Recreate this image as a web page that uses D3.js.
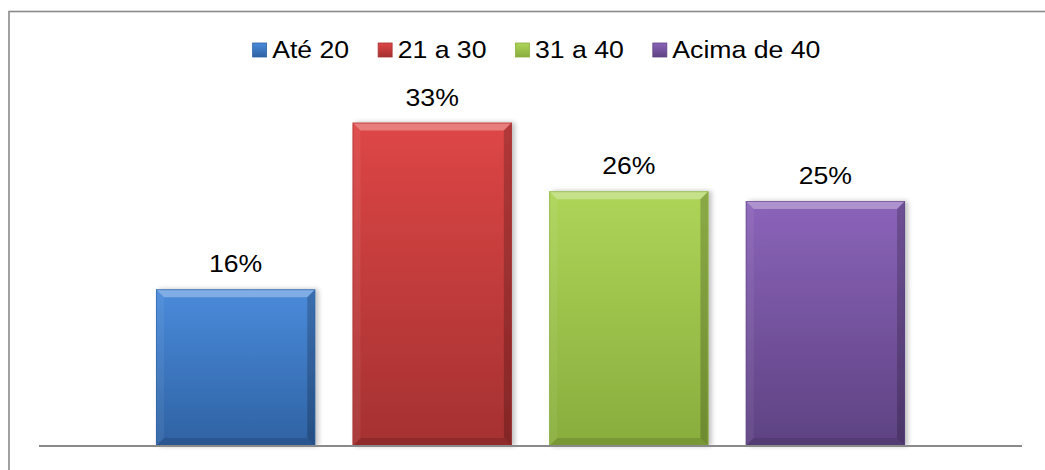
<!DOCTYPE html>
<html><head><meta charset="utf-8">
<script src="https://cdn.jsdelivr.net/npm/d3@7"></script>
<style>body{margin:0;background:#fff}svg{display:block}text{font-family:"Liberation Sans",Arial,sans-serif;fill:#000}</style>
</head><body><svg id="c" width="1045" height="470"></svg>
<script>
const categories = ["Até 20", "21 a 30", "31 a 40", "Acima de 40"];
const values = [16, 33, 26, 25];
const labels = ["16%", "33%", "26%", "25%"];
const colorsTop = ["#4a8bdb", "#de4646", "#aed558", "#8b64ba"];
const colorsBottom = ["#2f62a3", "#a53131", "#89ad3d", "#5e4282"];

const svg = d3.select("#c");
const W = 1045, H = 470;
const x0 = 39, x1 = 1022, yBase = 446;
const SX = 1.11; // horizontal text stretch seen in the reference
const x = d3.scaleBand().domain(categories).range([x0, x1]).paddingInner(0.19).paddingOuter(0.595);
const y = d3.scaleLinear().domain([0, 35]).range([yBase, yBase - 343]);

const defs = svg.append("defs");
const sh = defs.append("filter").attr("id","sh").attr("x","-10%").attr("y","-10%").attr("width","130%").attr("height","130%");
sh.append("feGaussianBlur").attr("in","SourceAlpha").attr("stdDeviation",2.5).attr("result","b");
sh.append("feOffset").attr("dx",3).attr("dy",0).attr("result","o");
sh.append("feComponentTransfer").append("feFuncA").attr("type","linear").attr("slope",0.25);
const m = sh.append("feMerge"); m.append("feMergeNode"); m.append("feMergeNode").attr("in","SourceGraphic");

categories.forEach((c,i)=>{
  const g = defs.append("linearGradient").attr("id","g"+i).attr("x1",0).attr("y1",0).attr("x2",0).attr("y2",1);
  g.append("stop").attr("offset","0%").attr("stop-color",colorsTop[i]);
  g.append("stop").attr("offset","100%").attr("stop-color",colorsBottom[i]);
});

// outer border
svg.append("rect").attr("x",9).attr("y",11.5).attr("width",W+20).attr("height",H+20)
  .attr("fill","none").attr("stroke","#8a8a8a").attr("stroke-width",1.6);

// bars
const bw = x.bandwidth(), bv = 8;
const bars = svg.append("g").selectAll("g").data(values).join("g").attr("filter","url(#sh)");
bars.append("rect").attr("x",(d,i)=>x(categories[i])).attr("y",d=>y(d))
  .attr("width",bw).attr("height",d=>yBase-y(d)).attr("fill",(d,i)=>`url(#g${i})`);
function poly(sel, fn, fill, op){
  sel.append("polygon").attr("points",(d,i)=>fn(x(categories[i]), y(d), bw, yBase-y(d)).map(p=>p.join(",")).join(" "))
    .attr("fill",fill).attr("opacity",op);
}
poly(bars,(l,t,w,h)=>[[l,t],[l+w,t],[l+w-bv,t+bv],[l+bv,t+bv]],"#fff",0.3);
poly(bars,(l,t,w,h)=>[[l,t+h],[l+w,t+h],[l+w-bv,t+h-bv],[l+bv,t+h-bv]],"#000",0.12);
poly(bars,(l,t,w,h)=>[[l,t],[l+bv,t+bv],[l+bv,t+h-bv],[l,t+h]],"#fff",0.06);
poly(bars,(l,t,w,h)=>[[l+w,t],[l+w-bv,t+bv],[l+w-bv,t+h-bv],[l+w,t+h]],"#000",0.2);
bars.append("rect").attr("x",(d,i)=>x(categories[i])+0.5).attr("y",d=>y(d)+0.5)
  .attr("width",bw-1).attr("height",d=>yBase-y(d)-1).attr("fill","none")
  .attr("stroke",(d,i)=>colorsBottom[i]).attr("stroke-opacity",0.6);

// axis line
svg.append("line").attr("x1",x0).attr("x2",x1).attr("y1",yBase).attr("y2",yBase)
  .attr("stroke","#8a8a8a").attr("stroke-width",2);

// data labels
svg.append("g").selectAll("text").data(values).join("text")
  .attr("transform",(d,i)=>`translate(${x(categories[i])+bw/2},${y(d)-17}) scale(${SX},1)`)
  .attr("text-anchor","middle").attr("font-size",24).text((d,i)=>labels[i]);

// legend
const lg = svg.append("g");
const items = lg.selectAll("g").data(categories).join("g");
items.append("rect").attr("width",14).attr("height",14).attr("y",-15)
  .attr("fill",(d,i)=>`url(#g${i})`).attr("stroke",(d,i)=>colorsBottom[i]).attr("stroke-width",0.8);
items.append("text").attr("transform",`translate(19.5,0) scale(${SX},1)`).attr("font-size",24).text(d=>d);
let cx = 0; const widths=[];
items.select("text").each(function(){ widths.push(19.5 + this.getComputedTextLength()*SX); });
const gap = 29;
items.attr("transform",(d,i)=>{ const t=`translate(${cx},0)`; cx += widths[i] + gap; return t; });
const total = cx - gap;
lg.attr("transform",`translate(${536.5 - total/2},58)`);
</script></body></html>
